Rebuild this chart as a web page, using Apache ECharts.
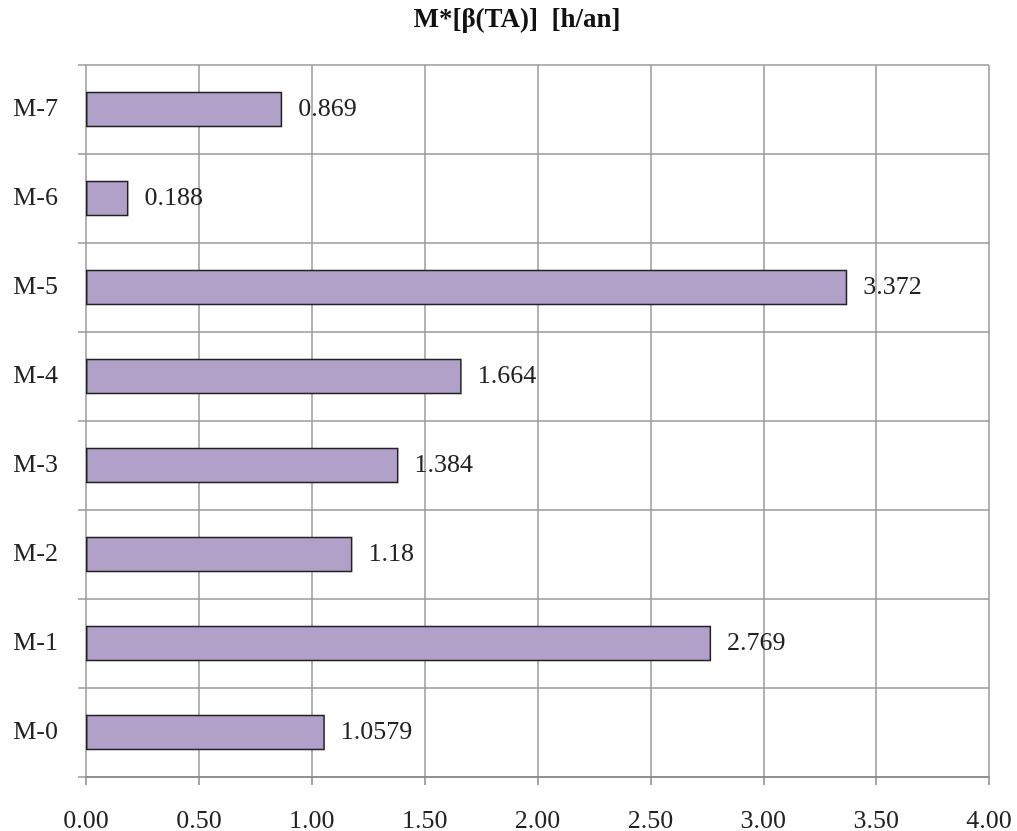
<!DOCTYPE html>
<html>
<head>
<meta charset="utf-8">
<script src="https://cdn.jsdelivr.net/npm/echarts@6/dist/echarts.min.js"></script>
<style>
  html, body { margin: 0; padding: 0; background: #fff; }
  #chart { width: 1017px; height: 831px; }
</style>
</head>
<body>
<div id="chart"></div>
<script>
// Machines, bottom to top on the category axis
const categories = ['M-0', 'M-1', 'M-2', 'M-3', 'M-4', 'M-5', 'M-6', 'M-7'];
// M*[β(TA)] in hours per year
const values = [1.0579, 2.769, 1.18, 1.384, 1.664, 3.372, 0.188, 0.869];
const titleText = 'M*[β(TA)]  [h/an]';

const serif = '"Liberation Serif", "DejaVu Serif", serif';
const chart = echarts.init(document.getElementById('chart'));

chart.setOption({
  animation: false,
  backgroundColor: '#ffffff',
  title: {
    text: titleText,
    left: 512,
    textAlign: 'center',
    top: 2,
    textStyle: { fontFamily: serif, fontSize: 27, fontWeight: 'bold', color: '#111' }
  },
  grid: {
    left: 86, right: 28, top: 65, bottom: 54,
    containLabel: false,
    outerBoundsMode: 'none'
  },
  xAxis: {
    type: 'value',
    min: 0,
    max: 4,
    interval: 0.5,
    axisLine: { show: true, lineStyle: { color: '#888', width: 1.5 } },
    axisTick: { show: true, length: 8, lineStyle: { color: '#888', width: 1.5 } },
    axisLabel: {
      margin: 31,
      fontFamily: serif,
      fontSize: 26,
      color: '#222',
      formatter: v => v.toFixed(2)
    },
    splitLine: { show: true, lineStyle: { color: '#999', width: 1.5 } }
  },
  yAxis: {
    type: 'category',
    data: categories,
    axisLine: { show: false },
    axisTick: { show: true, length: 8, lineStyle: { color: '#999', width: 1.5 } },
    splitLine: { show: true, lineStyle: { color: '#999', width: 1.5 } },
    axisLabel: { margin: 28, fontFamily: serif, fontSize: 26, color: '#222' }
  },
  series: [{
    type: 'bar',
    data: values,
    barWidth: '40%',
    itemStyle: { color: '#b1a1c8', borderColor: '#222', borderWidth: 1.5 },
    label: {
      show: true,
      position: 'right',
      distance: 16,
      fontFamily: serif,
      fontSize: 26,
      color: '#222',
      formatter: p => String(values[p.dataIndex])
    }
  }]
});
</script>
</body>
</html>
